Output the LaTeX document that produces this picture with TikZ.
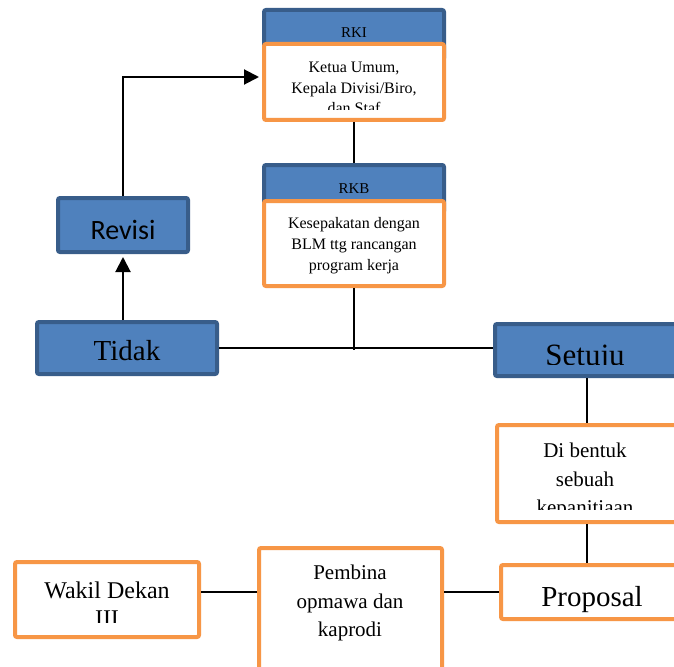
\documentclass[tikz,border=0pt]{standalone}
\usepackage{fontspec}
\setmainfont{Liberation Serif}
\newfontfamily\calib{Carlito}
\usetikzlibrary{arrows.meta}
\definecolor{bfill}{HTML}{4F81BD}
\definecolor{bline}{HTML}{385D8A}
\definecolor{oline}{HTML}{F79646}
\tikzset{
  bluebox/.style={rectangle, fill=bfill, draw=bline, line width=4pt, rounded corners=2pt, inner sep=0pt},
  orbox/.style={rectangle, fill=white, draw=oline, line width=4pt, rounded corners=2pt, inner sep=0pt},
  conn/.style={line width=2pt, black},
  arr/.style={conn, -{Triangle[length=15pt,width=15pt]}},
  txt/.style={align=center, inner sep=0pt, text=black},
}
\begin{document}
\begin{tikzpicture}[x=1pt,y=-1pt]
\clip (0,0) rectangle (674,666);
\fill[white] (0,0) rectangle (674,666);

% boxes
\node[bluebox, minimum width=180pt, minimum height=50pt] (rkib) at (354,35) {};
\node[txt, anchor=base, font=\fontsize{15}{18}\selectfont] (rkit) at (354,38) {RKI};
\node[orbox, minimum width=180pt, minimum height=76pt] (rkio) at (354,82) {};

\node[bluebox, minimum width=180pt, minimum height=48pt] (rkbb) at (354,189) {};
\node[txt, anchor=base, font=\fontsize{15}{18}\selectfont] (rkbt) at (354,193) {RKB};
\node[orbox, minimum width=180pt, minimum height=85pt] (rkbo) at (354,243.5) {};

\node[bluebox, minimum width=130pt, minimum height=54pt] (revisi) at (123,225) {};
\node[txt, anchor=base, font=\calib\fontsize{28}{32}\selectfont] (revisit) at (123,239) {Revisi};

\node[bluebox, minimum width=180pt, minimum height=52pt] (tidak) at (127,348) {};
\node[txt, anchor=base, font=\fontsize{29}{34}\selectfont] (tidakt) at (127,360) {Tidak};

\node[bluebox, minimum width=184pt, minimum height=52pt] (setuju) at (587,350) {};

\node[orbox, minimum width=184pt, minimum height=97pt] (dibentuk) at (589,473.5) {};
\node[orbox, minimum width=184pt, minimum height=54pt] (proposal) at (593,592) {};
\node[txt, anchor=base, font=\fontsize{29}{34}\selectfont] (proposalt) at (592,606) {Proposal};
\node[orbox, minimum width=183pt, minimum height=132pt] (pembina) at (350.5,614) {};
\node[txt, font=\fontsize{21}{28.5}\selectfont] (pembinat) at (350,603) {Pembina\\opmawa dan\\kaprodi};
\node[orbox, minimum width=184pt, minimum height=75pt] (wakil) at (107,599.5) {};

% clipped texts
\begin{scope}
\clip (266,46) rectangle (442,110);
\node[txt, font=\fontsize{16}{20.5}\selectfont] (rkiot) at (354,88) {Ketua Umum,\\Kepala Divisi/Biro,\\dan Staf};
\end{scope}
\node[txt, font=\fontsize{16}{21}\selectfont] (rkbot) at (354,246) {Kesepakatan dengan\\BLM ttg rancangan\\program kerja};
\begin{scope}
\clip (497,326) rectangle (674,364.5);
\node[txt, anchor=base, font=\fontsize{31}{36}\selectfont] (setujut) at (585,365) {Setuju};
\end{scope}
\begin{scope}
\clip (499,427) rectangle (674,509);
\node[txt, font=\fontsize{21}{28.5}\selectfont] (dibentukt) at (585,481) {Di bentuk\\sebuah\\kepanitiaan};
\end{scope}
\begin{scope}
\clip (17,564) rectangle (197,622);
\node[txt, font=\fontsize{24}{28}\selectfont] (wakilt) at (107,604) {Wakil Dekan\\III};
\end{scope}

% connectors
\coordinate (junc) at (354,350);
\draw[conn] (rkio.south) -- (rkbb.north);
\draw[conn] (rkbo.south) -- (junc);
\draw[conn] (tidak.east) -- (tidak.east -| setuju.west);
\draw[arr, shorten >=3pt] (revisi.south |- tidak.north) -- (revisi.south);
\draw[arr, shorten >=3pt] (revisi.north) |- ([yshift=5pt]rkio.west);
\draw[conn] (setuju.south) -- (setuju.south |- dibentuk.north);
\draw[conn] (setuju.south |- dibentuk.south) -- (setuju.south |- proposal.north);
\draw[conn] (proposal.west) -- (proposal.west -| pembina.east);
\draw[conn] (pembina.west |- proposal.west) -- (wakil.east |- proposal.west);
\end{tikzpicture}
\end{document}
